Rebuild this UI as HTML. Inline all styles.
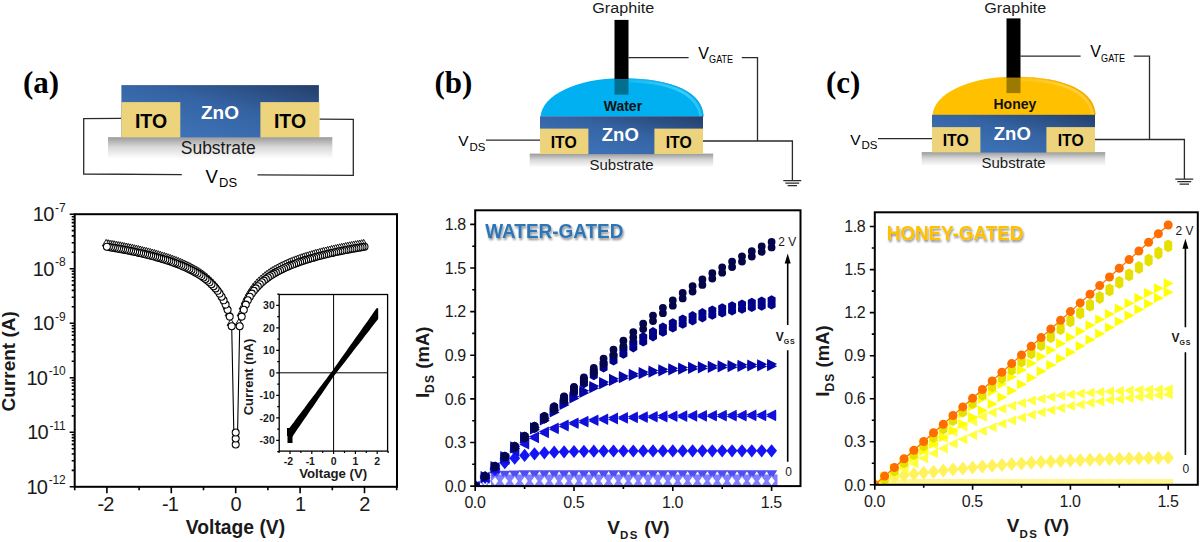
<!DOCTYPE html><html><head><meta charset="utf-8"><title>Figure</title><style>html,body{margin:0;padding:0;background:#fff;width:1200px;height:542px;overflow:hidden}svg{display:block}text{font-family:"Liberation Sans",sans-serif}</style></head><body>
<svg width="1200" height="542" viewBox="0 0 1200 542">
<rect width="1200" height="542" fill="#fff"/>
<defs>
<linearGradient id="zno" x1="0" y1="1" x2="1" y2="0"><stop offset="0" stop-color="#4178bf"/><stop offset="0.55" stop-color="#3564a4"/><stop offset="1" stop-color="#243f6a"/></linearGradient>
<linearGradient id="sub" x1="0" y1="0" x2="0" y2="1"><stop offset="0" stop-color="#9a9a9a"/><stop offset="0.45" stop-color="#d8d8d8"/><stop offset="1" stop-color="#ffffff"/></linearGradient>
<linearGradient id="wat" x1="0" y1="0" x2="1" y2="0"><stop offset="0" stop-color="#00aeef"/><stop offset="0.8" stop-color="#00b0f0"/><stop offset="1" stop-color="#0a8fd6"/></linearGradient>
<linearGradient id="hon" x1="0" y1="0" x2="1" y2="0"><stop offset="0" stop-color="#ffbf00"/><stop offset="0.8" stop-color="#ffc000"/><stop offset="1" stop-color="#f0a800"/></linearGradient>
<filter id="sh" x="-5%" y="-20%" width="115%" height="160%"><feGaussianBlur in="SourceAlpha" stdDeviation="0.8"/><feOffset dx="1.2" dy="1.5"/><feComponentTransfer><feFuncA type="linear" slope="0.45"/></feComponentTransfer><feMerge><feMergeNode/><feMergeNode in="SourceGraphic"/></feMerge></filter>
<path id="mc" d="M-3.9,0a3.9,3.9 0 1,0 7.8,0a3.9,3.9 0 1,0 -7.8,0z"/>
<path id="mh" d="M-4,-2.3L0,-4.6L4,-2.3L4,2.3L0,4.6L-4,2.3z"/>
<path id="mr" d="M-4.5,-5L5.5,0L-4.5,5z"/>
<path id="mC" d="M-4.5,0a4.5,4.5 0 1,0 9,0a4.5,4.5 0 1,0 -9,0z"/>
<path id="ml" d="M4.5,-5L-5.5,0L4.5,5z"/>
<path id="mD" d="M0,-7L5.6,0L0,7L-5.6,0z"/>
<path id="md" d="M0,-6.6L5.4,0L0,6.6L-5.4,0z"/>
<path id="mv" d="M-5.6,-4.4L5.6,-4.4L0,4.6z"/>
<path id="mp" d="M-3.5,0a3.5,3.5 0 1,0 7,0a3.5,3.5 0 1,0 -7,0z"/>
<path id="mw" d="M0,-6L5.2,0L0,6L-5.2,0z"/>
<path id="ms" d="M0,-4.2L3.2,0L0,4.2L-3.2,0z"/>
<path id="mb" d="M-5,-4H5V4H-5z"/>
<path id="mt" d="M0,-4L3.8,2.6L-3.8,2.6z"/>
</defs>
<text x="23" y="92.5" style="font-family:'Liberation Serif',serif" font-weight="bold" font-size="31">(a)</text>
<text x="434.5" y="92.5" style="font-family:'Liberation Serif',serif" font-weight="bold" font-size="31">(b)</text>
<text x="826" y="92.5" style="font-family:'Liberation Serif',serif" font-weight="bold" font-size="31">(c)</text>
<g>
<path d="M121.4,118.3 L83.7,118.6 L83.7,174 L181.8,174.6" fill="none" stroke="#2a2a2a" stroke-width="1.3"/>
<path d="M319.5,119.1 L353.3,119.4 L353.3,175.3 L257.5,174.9" fill="none" stroke="#2a2a2a" stroke-width="1.3"/>
<rect x="108" y="137.2" width="224.3" height="21.5" fill="url(#sub)"/>
<rect x="121.4" y="85.1" width="197.5" height="52.4" fill="url(#zno)"/>
<rect x="121.4" y="102.1" width="58.9" height="35.4" fill="#edd37c"/>
<rect x="260.4" y="102.1" width="59.1" height="35.4" fill="#edd37c"/>
<text x="151" y="128" font-size="19.5" text-anchor="middle" font-weight="bold" fill="#000" >ITO</text>
<text x="290" y="128" font-size="19.5" text-anchor="middle" font-weight="bold" fill="#000" >ITO</text>
<text x="220" y="119.1" font-size="19" text-anchor="middle" font-weight="bold" fill="#fff" >ZnO</text>
<text x="218.2" y="153.7" font-size="17.5" text-anchor="middle" font-weight="normal" fill="#1a1a1a" >Substrate</text>
<text x="205.5" y="182.9" font-size="18.5" text-anchor="start" font-weight="normal" fill="#000" >V</text>
<text x="219" y="187.3" font-size="13" text-anchor="start" font-weight="normal" fill="#000" >DS</text>
</g>
<defs><linearGradient id="bevWater" gradientUnits="userSpaceOnUse" x1="600" y1="0" x2="703" y2="0"><stop offset="0" stop-color="#45d2ff" stop-opacity="0"/><stop offset="0.8" stop-color="#45d2ff" stop-opacity="0.85"/><stop offset="1" stop-color="#45d2ff" stop-opacity="0.5"/></linearGradient><linearGradient id="rimWater" gradientUnits="userSpaceOnUse" x1="600" y1="0" x2="703" y2="0"><stop offset="0" stop-color="#0aa2e6" stop-opacity="0"/><stop offset="0.7" stop-color="#0aa2e6" stop-opacity="0.8"/><stop offset="1" stop-color="#0aa2e6" stop-opacity="0.8"/></linearGradient></defs>
<g transform="translate(0,0)">
<path d="M486,140.1 H540.5 M703,141 H792.4 V180.6 M628.5,57.7 H688.6 M741.8,57.7 H757.5 V141" fill="none" stroke="#2a2a2a" stroke-width="1.3"/>
<path d="M783.3,180.6 H801.2 M785.4,183.1 H799.2 M787.6,185.6 H797" fill="none" stroke="#2a2a2a" stroke-width="1.2"/>
<rect x="529.7" y="153.6" width="183.5" height="14" fill="url(#sub)"/>
<clipPath id="cpWater"><path d="M540.5,116.5 C542,96 575,78.3 622,78.3 C674,78.3 703,93 703.5,116.5 Z"/></clipPath>
<path d="M540.5,116.5 C542,96 575,78.3 622,78.3 C674,78.3 703,93 703.5,116.5 Z" fill="#00b0f0"/>
<g clip-path="url(#cpWater)"><path d="M622,78.3 C674,78.3 703,93 703.5,120" fill="none" stroke="url(#bevWater)" stroke-width="8"/><path d="M622,78.3 C674,78.3 703,93 703.5,120" fill="none" stroke="url(#rimWater)" stroke-width="2.4"/></g>
<rect x="540" y="116.3" width="163" height="37.8" fill="url(#zno)"/>
<rect x="540" y="128.6" width="48.4" height="25.5" fill="#edd37c"/>
<rect x="654.4" y="128.6" width="48.6" height="25.5" fill="#edd37c"/>
<rect x="614.5" y="19.9" width="14" height="59.4" fill="#000"/>
<rect x="614.5" y="79.3" width="14" height="15.3" fill="#006f90"/>
<text x="622.9" y="110.5" font-size="14" text-anchor="middle" font-weight="bold" fill="#111" >Water</text>
<text x="620.3" y="141.3" font-size="18.5" text-anchor="middle" font-weight="bold" fill="#fff" >ZnO</text>
<text x="563.7" y="147.5" font-size="15.8" text-anchor="middle" font-weight="bold" fill="#000" textLength="26" lengthAdjust="spacingAndGlyphs">ITO</text>
<text x="678.7" y="147.5" font-size="15.8" text-anchor="middle" font-weight="bold" fill="#000" textLength="26" lengthAdjust="spacingAndGlyphs">ITO</text>
<text x="621.6" y="169.8" font-size="15" text-anchor="middle" font-weight="normal" fill="#1a1a1a" >Substrate</text>
<text x="623.3" y="12.9" font-size="15.5" text-anchor="middle" font-weight="normal" fill="#1a1a1a" textLength="62" lengthAdjust="spacingAndGlyphs">Graphite</text>
<text x="458.3" y="146.3" font-size="15.5" text-anchor="start" font-weight="normal" fill="#000" >V</text>
<text x="469.5" y="150.8" font-size="11.5" text-anchor="start" font-weight="normal" fill="#000" >DS</text>
<text x="698.2" y="58.8" font-size="16" text-anchor="start" font-weight="normal" fill="#000" >V</text>
<text x="709.1" y="63" font-size="11.3" text-anchor="start" font-weight="normal" fill="#000" textLength="24" lengthAdjust="spacingAndGlyphs">GATE</text>
</g>
<defs><linearGradient id="bevHoney" gradientUnits="userSpaceOnUse" x1="600" y1="0" x2="703" y2="0"><stop offset="0" stop-color="#ffd24a" stop-opacity="0"/><stop offset="0.8" stop-color="#ffd24a" stop-opacity="0.85"/><stop offset="1" stop-color="#ffd24a" stop-opacity="0.5"/></linearGradient><linearGradient id="rimHoney" gradientUnits="userSpaceOnUse" x1="600" y1="0" x2="703" y2="0"><stop offset="0" stop-color="#f0a800" stop-opacity="0"/><stop offset="0.7" stop-color="#f0a800" stop-opacity="0.8"/><stop offset="1" stop-color="#f0a800" stop-opacity="0.8"/></linearGradient></defs>
<g transform="translate(392,-1.5)">
<path d="M486,140.1 H540.5 M703,141 H792.4 V180.6 M628.5,57.7 H688.6 M741.8,57.7 H757.5 V141" fill="none" stroke="#2a2a2a" stroke-width="1.3"/>
<path d="M783.3,180.6 H801.2 M785.4,183.1 H799.2 M787.6,185.6 H797" fill="none" stroke="#2a2a2a" stroke-width="1.2"/>
<rect x="529.7" y="153.6" width="183.5" height="14" fill="url(#sub)"/>
<clipPath id="cpHoney"><path d="M540.5,116.5 C542,96 575,78.3 622,78.3 C674,78.3 703,93 703.5,116.5 Z"/></clipPath>
<path d="M540.5,116.5 C542,96 575,78.3 622,78.3 C674,78.3 703,93 703.5,116.5 Z" fill="#ffc000"/>
<g clip-path="url(#cpHoney)"><path d="M622,78.3 C674,78.3 703,93 703.5,120" fill="none" stroke="url(#bevHoney)" stroke-width="8"/><path d="M622,78.3 C674,78.3 703,93 703.5,120" fill="none" stroke="url(#rimHoney)" stroke-width="2.4"/></g>
<rect x="540" y="116.3" width="163" height="37.8" fill="url(#zno)"/>
<rect x="540" y="128.6" width="48.4" height="25.5" fill="#edd37c"/>
<rect x="654.4" y="128.6" width="48.6" height="25.5" fill="#edd37c"/>
<rect x="614.5" y="19.9" width="14" height="59.4" fill="#000"/>
<rect x="614.5" y="79.3" width="14" height="15.3" fill="#9c7a00"/>
<text x="622.9" y="110.5" font-size="14" text-anchor="middle" font-weight="bold" fill="#111" >Honey</text>
<text x="620.3" y="141.3" font-size="18.5" text-anchor="middle" font-weight="bold" fill="#fff" >ZnO</text>
<text x="563.7" y="147.5" font-size="15.8" text-anchor="middle" font-weight="bold" fill="#000" textLength="26" lengthAdjust="spacingAndGlyphs">ITO</text>
<text x="678.7" y="147.5" font-size="15.8" text-anchor="middle" font-weight="bold" fill="#000" textLength="26" lengthAdjust="spacingAndGlyphs">ITO</text>
<text x="621.6" y="169.8" font-size="15" text-anchor="middle" font-weight="normal" fill="#1a1a1a" >Substrate</text>
<text x="623.3" y="14.4" font-size="15.5" text-anchor="middle" font-weight="normal" fill="#1a1a1a" textLength="62" lengthAdjust="spacingAndGlyphs">Graphite</text>
<text x="458.3" y="146.3" font-size="15.5" text-anchor="start" font-weight="normal" fill="#000" >V</text>
<text x="469.5" y="150.8" font-size="11.5" text-anchor="start" font-weight="normal" fill="#000" >DS</text>
<text x="698.2" y="58.8" font-size="16" text-anchor="start" font-weight="normal" fill="#000" >V</text>
<text x="709.1" y="63" font-size="11.3" text-anchor="start" font-weight="normal" fill="#000" textLength="24" lengthAdjust="spacingAndGlyphs">GATE</text>
</g>
<g>
<path d="M74.7,486.8h-5 M74.7,470.4h-3 M74.7,460.8h-3 M74.7,454h-3 M74.7,448.7h-3 M74.7,444.4h-3 M74.7,440.7h-3 M74.7,437.6h-3 M74.7,434.8h-3 M74.7,432.3h-5 M74.7,415.9h-3 M74.7,406.3h-3 M74.7,399.5h-3 M74.7,394.2h-3 M74.7,389.9h-3 M74.7,386.2h-3 M74.7,383h-3 M74.7,380.3h-3 M74.7,377.8h-5 M74.7,361.3h-3 M74.7,351.7h-3 M74.7,344.9h-3 M74.7,339.7h-3 M74.7,335.3h-3 M74.7,331.7h-3 M74.7,328.5h-3 M74.7,325.7h-3 M74.7,323.2h-5 M74.7,306.8h-3 M74.7,297.2h-3 M74.7,290.4h-3 M74.7,285.1h-3 M74.7,280.8h-3 M74.7,277.2h-3 M74.7,274h-3 M74.7,271.2h-3 M74.7,268.7h-5 M74.7,252.3h-3 M74.7,242.7h-3 M74.7,235.9h-3 M74.7,230.6h-3 M74.7,226.3h-3 M74.7,222.6h-3 M74.7,219.5h-3 M74.7,216.7h-3 M74.7,214.2h-5 M74.7,486.8v3.5 M106.9,486.8v6.5 M139.1,486.8v3.5 M171.3,486.8v6.5 M203.5,486.8v3.5 M235.7,486.8v6.5 M267.9,486.8v3.5 M300.1,486.8v6.5 M332.3,486.8v3.5 M364.5,486.8v6.5 M396.7,486.8v3.5" stroke="#000" stroke-width="1.6" fill="none"/>
<text x="65.4" y="493.7" font-size="20" text-anchor="end" fill="#1a1a1a" letter-spacing="-0.8">10<tspan font-size="12" dy="-9.3" dx="1.6" letter-spacing="-0.2">-12</tspan></text>
<text x="65.4" y="439.2" font-size="20" text-anchor="end" fill="#1a1a1a" letter-spacing="-0.8">10<tspan font-size="12" dy="-9.3" dx="1.6" letter-spacing="-0.2">-11</tspan></text>
<text x="65.4" y="384.7" font-size="20" text-anchor="end" fill="#1a1a1a" letter-spacing="-0.8">10<tspan font-size="12" dy="-9.3" dx="1.6" letter-spacing="-0.2">-10</tspan></text>
<text x="65.4" y="330.1" font-size="20" text-anchor="end" fill="#1a1a1a" letter-spacing="-0.8">10<tspan font-size="12" dy="-9.3" dx="1.6" letter-spacing="-0.2">-9</tspan></text>
<text x="65.4" y="275.6" font-size="20" text-anchor="end" fill="#1a1a1a" letter-spacing="-0.8">10<tspan font-size="12" dy="-9.3" dx="1.6" letter-spacing="-0.2">-8</tspan></text>
<text x="65.4" y="221.1" font-size="20" text-anchor="end" fill="#1a1a1a" letter-spacing="-0.8">10<tspan font-size="12" dy="-9.3" dx="1.6" letter-spacing="-0.2">-7</tspan></text>
<text x="105.6" y="510.7" font-size="20" text-anchor="middle" fill="#1a1a1a" letter-spacing="-0.8">-2</text>
<text x="170" y="510.7" font-size="20" text-anchor="middle" fill="#1a1a1a" letter-spacing="-0.8">-1</text>
<text x="235.7" y="510.7" font-size="20" text-anchor="middle" fill="#1a1a1a" letter-spacing="-0.8">0</text>
<text x="300.1" y="510.7" font-size="20" text-anchor="middle" fill="#1a1a1a" letter-spacing="-0.8">1</text>
<text x="364.5" y="510.7" font-size="20" text-anchor="middle" fill="#1a1a1a" letter-spacing="-0.8">2</text>
<text x="235.5" y="534.4" font-size="19.3" text-anchor="middle" font-weight="bold" fill="#1a1a1a" >Voltage (V)</text>
<text transform="translate(14.7,361.3) rotate(-90)" font-size="19" font-weight="bold" text-anchor="middle" fill="#1a1a1a">Current (A)</text>
<path d="M106.9,246.7 L108.9,247 L110.9,247.4 L112.9,247.7 L114.9,248.1 L117,248.4 L119,248.8 L121,249.2 L123,249.5 L125,249.9 L127,250.3 L129,250.7 L131,251.1 L133.1,251.5 L135.1,252 L137.1,252.4 L139.1,252.9 L141.1,253.3 L143.1,253.8 L145.1,254.3 L147.1,254.8 L149.2,255.3 L151.2,255.8 L153.2,256.3 L155.2,256.8 L157.2,257.4 L159.2,258 L161.2,258.6 L163.2,259.2 L165.3,259.8 L167.3,260.4 L169.3,261.1 L171.3,261.8 L173.3,262.5 L175.3,263.2 L177.3,264 L179.3,264.8 L181.4,265.6 L183.4,266.5 L185.4,267.3 L187.4,268.3 L189.4,269.2 L191.4,270.2 L193.4,271.3 L195.4,272.4 L197.5,273.6 L199.5,274.8 L201.5,276.1 L203.5,277.5 L205.5,279 L207.5,280.6 L209.5,282.3 L211.5,284.2 L213.6,286.2 L215.6,288.4 L217.6,290.8 L219.6,293.6 L221.6,296.7 L223.6,300.3 L225.6,304.6 L227.6,309.8 L229.7,316.6 L231.7,326.2 L233.9,436 M237.5,436 L239.7,326.2 L241.7,316.6 L243.8,309.8 L245.8,304.6 L247.8,300.3 L249.8,296.7 L251.8,293.6 L253.8,290.8 L255.8,288.4 L257.8,286.2 L259.8,284.2 L261.9,282.3 L263.9,280.6 L265.9,279 L267.9,277.5 L269.9,276.1 L271.9,274.8 L273.9,273.6 L275.9,272.4 L278,271.3 L280,270.2 L282,269.2 L284,268.3 L286,267.3 L288,266.5 L290,265.6 L292.1,264.8 L294.1,264 L296.1,263.2 L298.1,262.5 L300.1,261.8 L302.1,261.1 L304.1,260.4 L306.1,259.8 L308.1,259.2 L310.2,258.6 L312.2,258 L314.2,257.4 L316.2,256.8 L318.2,256.3 L320.2,255.8 L322.2,255.3 L324.2,254.8 L326.3,254.3 L328.3,253.8 L330.3,253.3 L332.3,252.9 L334.3,252.4 L336.3,252 L338.3,251.5 L340.4,251.1 L342.4,250.7 L344.4,250.3 L346.4,249.9 L348.4,249.5 L350.4,249.2 L352.4,248.8 L354.4,248.4 L356.4,248.1 L358.5,247.7 L360.5,247.4 L362.5,247 L364.5,246.7" fill="none" stroke="#000" stroke-width="1.1"/>
<g fill="#fff" stroke="#000" stroke-width="0.9">
<use href="#mt" x="363.7" y="243.4"/>
<use href="#mt" x="361.7" y="243.7"/>
<use href="#mt" x="359.7" y="244.1"/>
<use href="#mt" x="357.7" y="244.4"/>
<use href="#mt" x="355.6" y="244.7"/>
<use href="#mt" x="353.6" y="245.1"/>
<use href="#mt" x="351.6" y="245.5"/>
<use href="#mt" x="349.6" y="245.8"/>
<use href="#mt" x="347.6" y="246.2"/>
<use href="#mt" x="345.6" y="246.6"/>
<use href="#mt" x="343.6" y="247"/>
<use href="#mt" x="341.6" y="247.4"/>
<use href="#mt" x="339.6" y="247.8"/>
<use href="#mt" x="337.5" y="248.2"/>
<use href="#mt" x="335.5" y="248.7"/>
<use href="#mt" x="333.5" y="249.1"/>
<use href="#mt" x="331.5" y="249.5"/>
<use href="#mt" x="329.5" y="250"/>
<use href="#mt" x="327.5" y="250.5"/>
<use href="#mt" x="325.5" y="251"/>
<use href="#mt" x="323.4" y="251.4"/>
<use href="#mt" x="321.4" y="251.9"/>
<use href="#mt" x="319.4" y="252.5"/>
<use href="#mt" x="317.4" y="253"/>
<use href="#mt" x="315.4" y="253.5"/>
<use href="#mt" x="313.4" y="254.1"/>
<use href="#mt" x="311.4" y="254.7"/>
<use href="#mt" x="309.4" y="255.3"/>
<use href="#mt" x="307.3" y="255.9"/>
<use href="#mt" x="305.3" y="256.5"/>
<use href="#mt" x="303.3" y="257.1"/>
<use href="#mt" x="301.3" y="257.8"/>
<use href="#mt" x="299.3" y="258.5"/>
<use href="#mt" x="297.3" y="259.2"/>
<use href="#mt" x="295.3" y="259.9"/>
<use href="#mt" x="293.3" y="260.7"/>
<use href="#mt" x="291.2" y="261.5"/>
<use href="#mt" x="289.2" y="262.3"/>
<use href="#mt" x="287.2" y="263.2"/>
<use href="#mt" x="285.2" y="264"/>
<use href="#mt" x="283.2" y="265"/>
<use href="#mt" x="281.2" y="265.9"/>
<use href="#mt" x="279.2" y="266.9"/>
<use href="#mt" x="277.2" y="268"/>
<use href="#mt" x="275.1" y="269.1"/>
<use href="#mt" x="273.1" y="270.3"/>
<use href="#mt" x="271.1" y="271.5"/>
<use href="#mt" x="269.1" y="272.8"/>
<use href="#mt" x="267.1" y="274.2"/>
<use href="#mt" x="265.1" y="275.7"/>
<use href="#mt" x="263.1" y="277.3"/>
<use href="#mt" x="261.1" y="279"/>
<use href="#mt" x="259" y="280.9"/>
<use href="#mt" x="257" y="282.9"/>
<use href="#mt" x="255" y="285.1"/>
<use href="#mt" x="253" y="287.5"/>
<use href="#mt" x="251" y="290.3"/>
<use href="#mt" x="249" y="293.4"/>
<use href="#mt" x="247" y="297"/>
<use href="#mt" x="245" y="301.3"/>
<use href="#mt" x="242.9" y="306.5"/>
<use href="#mt" x="240.9" y="313.3"/>
<use href="#mt" x="238.9" y="322.8"/>
<use href="#mt" x="230.9" y="322.8"/>
<use href="#mt" x="228.9" y="313.3"/>
<use href="#mt" x="226.8" y="306.5"/>
<use href="#mt" x="224.8" y="301.3"/>
<use href="#mt" x="222.8" y="297"/>
<use href="#mt" x="220.8" y="293.4"/>
<use href="#mt" x="218.8" y="290.3"/>
<use href="#mt" x="216.8" y="287.5"/>
<use href="#mt" x="214.8" y="285.1"/>
<use href="#mt" x="212.8" y="282.9"/>
<use href="#mt" x="210.7" y="280.9"/>
<use href="#mt" x="208.7" y="279"/>
<use href="#mt" x="206.7" y="277.3"/>
<use href="#mt" x="204.7" y="275.7"/>
<use href="#mt" x="202.7" y="274.2"/>
<use href="#mt" x="200.7" y="272.8"/>
<use href="#mt" x="198.7" y="271.5"/>
<use href="#mt" x="196.7" y="270.3"/>
<use href="#mt" x="194.6" y="269.1"/>
<use href="#mt" x="192.6" y="268"/>
<use href="#mt" x="190.6" y="266.9"/>
<use href="#mt" x="188.6" y="265.9"/>
<use href="#mt" x="186.6" y="265"/>
<use href="#mt" x="184.6" y="264"/>
<use href="#mt" x="182.6" y="263.2"/>
<use href="#mt" x="180.6" y="262.3"/>
<use href="#mt" x="178.5" y="261.5"/>
<use href="#mt" x="176.5" y="260.7"/>
<use href="#mt" x="174.5" y="259.9"/>
<use href="#mt" x="172.5" y="259.2"/>
<use href="#mt" x="170.5" y="258.5"/>
<use href="#mt" x="168.5" y="257.8"/>
<use href="#mt" x="166.5" y="257.1"/>
<use href="#mt" x="164.5" y="256.5"/>
<use href="#mt" x="162.4" y="255.9"/>
<use href="#mt" x="160.4" y="255.3"/>
<use href="#mt" x="158.4" y="254.7"/>
<use href="#mt" x="156.4" y="254.1"/>
<use href="#mt" x="154.4" y="253.5"/>
<use href="#mt" x="152.4" y="253"/>
<use href="#mt" x="150.4" y="252.5"/>
<use href="#mt" x="148.4" y="251.9"/>
<use href="#mt" x="146.3" y="251.4"/>
<use href="#mt" x="144.3" y="251"/>
<use href="#mt" x="142.3" y="250.5"/>
<use href="#mt" x="140.3" y="250"/>
<use href="#mt" x="138.3" y="249.5"/>
<use href="#mt" x="136.3" y="249.1"/>
<use href="#mt" x="134.3" y="248.7"/>
<use href="#mt" x="132.3" y="248.2"/>
<use href="#mt" x="130.2" y="247.8"/>
<use href="#mt" x="128.2" y="247.4"/>
<use href="#mt" x="126.2" y="247"/>
<use href="#mt" x="124.2" y="246.6"/>
<use href="#mt" x="122.2" y="246.2"/>
<use href="#mt" x="120.2" y="245.8"/>
<use href="#mt" x="118.2" y="245.5"/>
<use href="#mt" x="116.2" y="245.1"/>
<use href="#mt" x="114.1" y="244.7"/>
<use href="#mt" x="112.1" y="244.4"/>
<use href="#mt" x="110.1" y="244.1"/>
<use href="#mt" x="108.1" y="243.7"/>
<use href="#mt" x="106.1" y="243.4"/>
</g>
<g fill="#fff" stroke="#000" stroke-width="1.05">
<use href="#mp" x="364.5" y="246.7"/>
<use href="#mp" x="362.5" y="247"/>
<use href="#mp" x="360.5" y="247.4"/>
<use href="#mp" x="358.5" y="247.7"/>
<use href="#mp" x="356.4" y="248.1"/>
<use href="#mp" x="354.4" y="248.4"/>
<use href="#mp" x="352.4" y="248.8"/>
<use href="#mp" x="350.4" y="249.2"/>
<use href="#mp" x="348.4" y="249.5"/>
<use href="#mp" x="346.4" y="249.9"/>
<use href="#mp" x="344.4" y="250.3"/>
<use href="#mp" x="342.4" y="250.7"/>
<use href="#mp" x="340.4" y="251.1"/>
<use href="#mp" x="338.3" y="251.5"/>
<use href="#mp" x="336.3" y="252"/>
<use href="#mp" x="334.3" y="252.4"/>
<use href="#mp" x="332.3" y="252.9"/>
<use href="#mp" x="330.3" y="253.3"/>
<use href="#mp" x="328.3" y="253.8"/>
<use href="#mp" x="326.3" y="254.3"/>
<use href="#mp" x="324.2" y="254.8"/>
<use href="#mp" x="322.2" y="255.3"/>
<use href="#mp" x="320.2" y="255.8"/>
<use href="#mp" x="318.2" y="256.3"/>
<use href="#mp" x="316.2" y="256.8"/>
<use href="#mp" x="314.2" y="257.4"/>
<use href="#mp" x="312.2" y="258"/>
<use href="#mp" x="310.2" y="258.6"/>
<use href="#mp" x="308.1" y="259.2"/>
<use href="#mp" x="306.1" y="259.8"/>
<use href="#mp" x="304.1" y="260.4"/>
<use href="#mp" x="302.1" y="261.1"/>
<use href="#mp" x="300.1" y="261.8"/>
<use href="#mp" x="298.1" y="262.5"/>
<use href="#mp" x="296.1" y="263.2"/>
<use href="#mp" x="294.1" y="264"/>
<use href="#mp" x="292.1" y="264.8"/>
<use href="#mp" x="290" y="265.6"/>
<use href="#mp" x="288" y="266.5"/>
<use href="#mp" x="286" y="267.3"/>
<use href="#mp" x="284" y="268.3"/>
<use href="#mp" x="282" y="269.2"/>
<use href="#mp" x="280" y="270.2"/>
<use href="#mp" x="278" y="271.3"/>
<use href="#mp" x="275.9" y="272.4"/>
<use href="#mp" x="273.9" y="273.6"/>
<use href="#mp" x="271.9" y="274.8"/>
<use href="#mp" x="269.9" y="276.1"/>
<use href="#mp" x="267.9" y="277.5"/>
<use href="#mp" x="265.9" y="279"/>
<use href="#mp" x="263.9" y="280.6"/>
<use href="#mp" x="261.9" y="282.3"/>
<use href="#mp" x="259.8" y="284.2"/>
<use href="#mp" x="257.8" y="286.2"/>
<use href="#mp" x="255.8" y="288.4"/>
<use href="#mp" x="253.8" y="290.8"/>
<use href="#mp" x="251.8" y="293.6"/>
<use href="#mp" x="249.8" y="296.7"/>
<use href="#mp" x="247.8" y="300.3"/>
<use href="#mp" x="245.8" y="304.6"/>
<use href="#mp" x="243.8" y="309.8"/>
<use href="#mp" x="241.7" y="316.6"/>
<use href="#mp" x="239.7" y="326.2"/>
<use href="#mp" x="231.7" y="326.2"/>
<use href="#mp" x="229.7" y="316.6"/>
<use href="#mp" x="227.6" y="309.8"/>
<use href="#mp" x="225.6" y="304.6"/>
<use href="#mp" x="223.6" y="300.3"/>
<use href="#mp" x="221.6" y="296.7"/>
<use href="#mp" x="219.6" y="293.6"/>
<use href="#mp" x="217.6" y="290.8"/>
<use href="#mp" x="215.6" y="288.4"/>
<use href="#mp" x="213.6" y="286.2"/>
<use href="#mp" x="211.5" y="284.2"/>
<use href="#mp" x="209.5" y="282.3"/>
<use href="#mp" x="207.5" y="280.6"/>
<use href="#mp" x="205.5" y="279"/>
<use href="#mp" x="203.5" y="277.5"/>
<use href="#mp" x="201.5" y="276.1"/>
<use href="#mp" x="199.5" y="274.8"/>
<use href="#mp" x="197.5" y="273.6"/>
<use href="#mp" x="195.4" y="272.4"/>
<use href="#mp" x="193.4" y="271.3"/>
<use href="#mp" x="191.4" y="270.2"/>
<use href="#mp" x="189.4" y="269.2"/>
<use href="#mp" x="187.4" y="268.3"/>
<use href="#mp" x="185.4" y="267.3"/>
<use href="#mp" x="183.4" y="266.5"/>
<use href="#mp" x="181.4" y="265.6"/>
<use href="#mp" x="179.3" y="264.8"/>
<use href="#mp" x="177.3" y="264"/>
<use href="#mp" x="175.3" y="263.2"/>
<use href="#mp" x="173.3" y="262.5"/>
<use href="#mp" x="171.3" y="261.8"/>
<use href="#mp" x="169.3" y="261.1"/>
<use href="#mp" x="167.3" y="260.4"/>
<use href="#mp" x="165.3" y="259.8"/>
<use href="#mp" x="163.2" y="259.2"/>
<use href="#mp" x="161.2" y="258.6"/>
<use href="#mp" x="159.2" y="258"/>
<use href="#mp" x="157.2" y="257.4"/>
<use href="#mp" x="155.2" y="256.8"/>
<use href="#mp" x="153.2" y="256.3"/>
<use href="#mp" x="151.2" y="255.8"/>
<use href="#mp" x="149.2" y="255.3"/>
<use href="#mp" x="147.1" y="254.8"/>
<use href="#mp" x="145.1" y="254.3"/>
<use href="#mp" x="143.1" y="253.8"/>
<use href="#mp" x="141.1" y="253.3"/>
<use href="#mp" x="139.1" y="252.9"/>
<use href="#mp" x="137.1" y="252.4"/>
<use href="#mp" x="135.1" y="252"/>
<use href="#mp" x="133.1" y="251.5"/>
<use href="#mp" x="131" y="251.1"/>
<use href="#mp" x="129" y="250.7"/>
<use href="#mp" x="127" y="250.3"/>
<use href="#mp" x="125" y="249.9"/>
<use href="#mp" x="123" y="249.5"/>
<use href="#mp" x="121" y="249.2"/>
<use href="#mp" x="119" y="248.8"/>
<use href="#mp" x="117" y="248.4"/>
<use href="#mp" x="114.9" y="248.1"/>
<use href="#mp" x="112.9" y="247.7"/>
<use href="#mp" x="110.9" y="247.4"/>
<use href="#mp" x="108.9" y="247"/>
<use href="#mp" x="106.9" y="246.7"/>
<use href="#mp" x="235.7" y="444.5"/>
<use href="#mp" x="235.7" y="438.5"/>
<use href="#mp" x="235.7" y="432.5"/>
</g>
<rect x="74.7" y="214.2" width="322.3" height="272.6" fill="none" stroke="#000" stroke-width="2"/>
<rect x="279.2" y="294.5" width="108.4" height="156.6" fill="#fff"/>
<path d="M333.6,294.5V451.1 M279.2,372.8H387.6" stroke="#000" stroke-width="1"/>
<path d="M279.2,451.6h-2 M279.2,440.3h-3 M279.2,429.1h-2 M279.2,417.8h-3 M279.2,406.6h-2 M279.2,395.3h-3 M279.2,384.1h-2 M279.2,372.8h-3 M279.2,361.6h-2 M279.2,350.3h-3 M279.2,339.1h-2 M279.2,327.8h-3 M279.2,316.6h-2 M279.2,305.3h-3 M279.2,294.1h-2 M279.1,451.1v2 M290,451.1v3 M300.9,451.1v2 M311.8,451.1v3 M322.7,451.1v2 M333.6,451.1v3 M344.5,451.1v2 M355.4,451.1v3 M366.3,451.1v2 M377.2,451.1v3 M388.1,451.1v2" stroke="#000" stroke-width="1.2" fill="none"/>
<text x="274.8" y="444" font-size="10.5" text-anchor="end" font-weight="bold" fill="#1a1a1a" >-30</text>
<text x="274.8" y="421.5" font-size="10.5" text-anchor="end" font-weight="bold" fill="#1a1a1a" >-20</text>
<text x="274.8" y="399" font-size="10.5" text-anchor="end" font-weight="bold" fill="#1a1a1a" >-10</text>
<text x="274.8" y="376.5" font-size="10.5" text-anchor="end" font-weight="bold" fill="#1a1a1a" >0</text>
<text x="274.8" y="354" font-size="10.5" text-anchor="end" font-weight="bold" fill="#1a1a1a" >10</text>
<text x="274.8" y="331.5" font-size="10.5" text-anchor="end" font-weight="bold" fill="#1a1a1a" >20</text>
<text x="274.8" y="309" font-size="10.5" text-anchor="end" font-weight="bold" fill="#1a1a1a" >30</text>
<text x="288.5" y="465.2" font-size="10.5" text-anchor="middle" font-weight="bold" fill="#1a1a1a" >-2</text>
<text x="310.3" y="465.2" font-size="10.5" text-anchor="middle" font-weight="bold" fill="#1a1a1a" >-1</text>
<text x="333.6" y="465.2" font-size="10.5" text-anchor="middle" font-weight="bold" fill="#1a1a1a" >0</text>
<text x="355.4" y="465.2" font-size="10.5" text-anchor="middle" font-weight="bold" fill="#1a1a1a" >1</text>
<text x="377.2" y="465.2" font-size="10.5" text-anchor="middle" font-weight="bold" fill="#1a1a1a" >2</text>
<text x="333.2" y="477.7" font-size="13.2" text-anchor="middle" font-weight="bold" fill="#1a1a1a" >Voltage (V)</text>
<text transform="translate(253.4,377) rotate(-90)" font-size="13" font-weight="bold" text-anchor="middle" fill="#1a1a1a">Current (nA)</text>
<path d="M290,428.8 L292.2,425.9 L294.4,423 L296.5,420.1 L298.7,417.2 L300.9,414.3 L303.1,411.4 L305.3,408.5 L307.4,405.6 L309.6,402.7 L311.8,399.8 L314,396.9 L316.2,394 L318.3,391.1 L320.5,388.2 L322.7,385.3 L324.9,382.4 L327.1,379.5 L329.2,376.6 L331.4,373.7 L333.6,370.8 L335.8,367.7 L338,364.6 L340.1,361.5 L342.3,358.4 L344.5,355.4 L346.7,352.3 L348.9,349.2 L351,346.1 L353.2,343 L355.4,339.9 L357.6,336.9 L359.8,333.8 L361.9,330.7 L364.1,327.6 L366.3,324.5 L368.5,321.5 L370.7,318.4 L372.8,315.3 L375,312.2 L377.2,309.1 L377.2,318.6 L375,321.4 L372.8,324.2 L370.7,327 L368.5,329.8 L366.3,332.6 L364.1,335.4 L361.9,338.3 L359.8,341.1 L357.6,343.9 L355.4,346.7 L353.2,349.5 L351,352.3 L348.9,355.1 L346.7,357.9 L344.5,360.8 L342.3,363.6 L340.1,366.4 L338,369.2 L335.8,372 L333.6,374.8 L331.4,378 L329.2,381.2 L327.1,384.3 L324.9,387.5 L322.7,390.7 L320.5,393.9 L318.3,397 L316.2,400.2 L314,403.4 L311.8,406.6 L309.6,409.7 L307.4,412.9 L305.3,416.1 L303.1,419.2 L300.9,422.4 L298.7,425.6 L296.5,428.8 L294.4,431.9 L292.2,435.1 L290,438.3Z" fill="#000" stroke="#000" stroke-width="2" stroke-linejoin="round"/>
<rect x="287.5" y="436" width="5" height="7" fill="#000"/>
<rect x="287" y="428" width="4" height="8" fill="#000"/>
<rect x="279.2" y="294.5" width="108.4" height="156.6" fill="none" stroke="#000" stroke-width="1.3"/>
</g>
<g>
<path d="M475.2,486.1h-5 M475.2,464.3h-3 M475.2,442.5h-5 M475.2,420.7h-3 M475.2,398.9h-5 M475.2,377.1h-3 M475.2,355.2h-5 M475.2,333.4h-3 M475.2,311.6h-5 M475.2,289.8h-3 M475.2,268h-5 M475.2,246.2h-3 M475.2,224.4h-5 M475.2,486.1v5 M524.6,486.1v3 M574,486.1v5 M623.4,486.1v3 M672.8,486.1v5 M722.2,486.1v3 M771.6,486.1v5" stroke="#000" stroke-width="1.6" fill="none"/>
<text x="465.7" y="491.8" font-size="16" text-anchor="end" fill="#1a1a1a" letter-spacing="-0.4">0.0</text>
<text x="465.7" y="448.2" font-size="16" text-anchor="end" fill="#1a1a1a" letter-spacing="-0.4">0.3</text>
<text x="465.7" y="404.6" font-size="16" text-anchor="end" fill="#1a1a1a" letter-spacing="-0.4">0.6</text>
<text x="465.7" y="360.9" font-size="16" text-anchor="end" fill="#1a1a1a" letter-spacing="-0.4">0.9</text>
<text x="465.7" y="317.3" font-size="16" text-anchor="end" fill="#1a1a1a" letter-spacing="-0.4">1.2</text>
<text x="465.7" y="273.7" font-size="16" text-anchor="end" fill="#1a1a1a" letter-spacing="-0.4">1.5</text>
<text x="465.7" y="230.1" font-size="16" text-anchor="end" fill="#1a1a1a" letter-spacing="-0.4">1.8</text>
<text x="474.9" y="508" font-size="16" text-anchor="middle" fill="#1a1a1a" letter-spacing="-0.4">0.0</text>
<text x="573.7" y="508" font-size="16" text-anchor="middle" fill="#1a1a1a" letter-spacing="-0.4">0.5</text>
<text x="672.5" y="508" font-size="16" text-anchor="middle" fill="#1a1a1a" letter-spacing="-0.4">1.0</text>
<text x="771.3" y="508" font-size="16" text-anchor="middle" fill="#1a1a1a" letter-spacing="-0.4">1.5</text>
<text transform="translate(428.9,362.3) rotate(-90)" font-size="18.5" font-weight="bold" fill="#1a1a1a" text-anchor="middle">I<tspan font-size="12" dy="5.5" letter-spacing="1.2">DS</tspan><tspan dy="-5.5"> (mA)</tspan></text>
<text x="607.2" y="533.7" font-size="19" font-weight="bold" fill="#1a1a1a">V<tspan font-size="11.5" dy="5.5" letter-spacing="1.5">DS</tspan><tspan dy="-5.5"> (V)</tspan></text>
<clipPath id="clip475"><rect x="475.2" y="210.3" width="325.3" height="275.8"/></clipPath>
<g clip-path="url(#clip475)">
<rect x="491" y="474.5" width="286.5" height="11.6" fill="#7f7fff"/>
<g fill="#4d4df2">
<use href="#mv" x="475.2" y="486.1"/>
<use href="#mv" x="485.1" y="479.4"/>
<use href="#mv" x="495" y="476"/>
<use href="#mv" x="504.8" y="475.1"/>
<use href="#mv" x="514.7" y="474.8"/>
<use href="#mv" x="524.6" y="474.7"/>
<use href="#mv" x="534.5" y="474.7"/>
<use href="#mv" x="544.4" y="474.7"/>
<use href="#mv" x="554.2" y="474.6"/>
<use href="#mv" x="564.1" y="474.6"/>
<use href="#mv" x="574" y="474.6"/>
<use href="#mv" x="583.9" y="474.6"/>
<use href="#mv" x="593.8" y="474.6"/>
<use href="#mv" x="603.6" y="474.6"/>
<use href="#mv" x="613.5" y="474.6"/>
<use href="#mv" x="623.4" y="474.6"/>
<use href="#mv" x="633.3" y="474.6"/>
<use href="#mv" x="643.2" y="474.6"/>
<use href="#mv" x="653" y="474.6"/>
<use href="#mv" x="662.9" y="474.6"/>
<use href="#mv" x="672.8" y="474.6"/>
<use href="#mv" x="682.7" y="474.6"/>
<use href="#mv" x="692.6" y="474.6"/>
<use href="#mv" x="702.4" y="474.6"/>
<use href="#mv" x="712.3" y="474.6"/>
<use href="#mv" x="722.2" y="474.6"/>
<use href="#mv" x="732.1" y="474.6"/>
<use href="#mv" x="742" y="474.6"/>
<use href="#mv" x="751.8" y="474.6"/>
<use href="#mv" x="761.7" y="474.6"/>
<use href="#mv" x="771.6" y="474.6"/>
</g>
<g fill="#7f7fff">
<use href="#mw" x="475.2" y="486.1"/>
<use href="#mw" x="485.1" y="481.8"/>
<use href="#mw" x="495" y="481.1"/>
<use href="#mw" x="504.8" y="481.1"/>
<use href="#mw" x="514.7" y="481"/>
<use href="#mw" x="524.6" y="481"/>
<use href="#mw" x="534.5" y="481"/>
<use href="#mw" x="544.4" y="481"/>
<use href="#mw" x="554.2" y="481"/>
<use href="#mw" x="564.1" y="481"/>
<use href="#mw" x="574" y="481"/>
<use href="#mw" x="583.9" y="481"/>
<use href="#mw" x="593.8" y="481"/>
<use href="#mw" x="603.6" y="481"/>
<use href="#mw" x="613.5" y="481"/>
<use href="#mw" x="623.4" y="481"/>
<use href="#mw" x="633.3" y="481"/>
<use href="#mw" x="643.2" y="481"/>
<use href="#mw" x="653" y="481"/>
<use href="#mw" x="662.9" y="481"/>
<use href="#mw" x="672.8" y="481"/>
<use href="#mw" x="682.7" y="481"/>
<use href="#mw" x="692.6" y="481"/>
<use href="#mw" x="702.4" y="481"/>
<use href="#mw" x="712.3" y="481"/>
<use href="#mw" x="722.2" y="481"/>
<use href="#mw" x="732.1" y="481"/>
<use href="#mw" x="742" y="481"/>
<use href="#mw" x="751.8" y="481"/>
<use href="#mw" x="761.7" y="481"/>
<use href="#mw" x="771.6" y="481"/>
</g>
<g fill="#ffffff">
<use href="#ms" x="485.1" y="481.8"/>
<use href="#ms" x="495" y="481.1"/>
<use href="#ms" x="504.8" y="481.1"/>
<use href="#ms" x="514.7" y="481"/>
<use href="#ms" x="524.6" y="481"/>
<use href="#ms" x="534.5" y="481"/>
<use href="#ms" x="544.4" y="481"/>
<use href="#ms" x="554.2" y="481"/>
<use href="#ms" x="564.1" y="481"/>
<use href="#ms" x="574" y="481"/>
<use href="#ms" x="583.9" y="481"/>
<use href="#ms" x="593.8" y="481"/>
<use href="#ms" x="603.6" y="481"/>
<use href="#ms" x="613.5" y="481"/>
<use href="#ms" x="623.4" y="481"/>
<use href="#ms" x="633.3" y="481"/>
<use href="#ms" x="643.2" y="481"/>
<use href="#ms" x="653" y="481"/>
<use href="#ms" x="662.9" y="481"/>
<use href="#ms" x="672.8" y="481"/>
<use href="#ms" x="682.7" y="481"/>
<use href="#ms" x="692.6" y="481"/>
<use href="#ms" x="702.4" y="481"/>
<use href="#ms" x="712.3" y="481"/>
<use href="#ms" x="722.2" y="481"/>
<use href="#ms" x="732.1" y="481"/>
<use href="#ms" x="742" y="481"/>
<use href="#ms" x="751.8" y="481"/>
<use href="#ms" x="761.7" y="481"/>
<use href="#ms" x="771.6" y="481"/>
</g>
<g fill="#1414f5">
<use href="#md" x="475.2" y="486.1"/>
<use href="#md" x="485.1" y="477.4"/>
<use href="#md" x="495" y="469.3"/>
<use href="#md" x="504.8" y="462.7"/>
<use href="#md" x="514.7" y="458.2"/>
<use href="#md" x="524.6" y="455.4"/>
<use href="#md" x="534.5" y="453.8"/>
<use href="#md" x="544.4" y="452.8"/>
<use href="#md" x="554.2" y="452.2"/>
<use href="#md" x="564.1" y="451.8"/>
<use href="#md" x="574" y="451.5"/>
<use href="#md" x="583.9" y="451.3"/>
<use href="#md" x="593.8" y="451.2"/>
<use href="#md" x="603.6" y="451.1"/>
<use href="#md" x="613.5" y="451"/>
<use href="#md" x="623.4" y="451"/>
<use href="#md" x="633.3" y="451"/>
<use href="#md" x="643.2" y="450.9"/>
<use href="#md" x="653" y="450.9"/>
<use href="#md" x="662.9" y="450.9"/>
<use href="#md" x="672.8" y="450.9"/>
<use href="#md" x="682.7" y="450.9"/>
<use href="#md" x="692.6" y="450.8"/>
<use href="#md" x="702.4" y="450.8"/>
<use href="#md" x="712.3" y="450.8"/>
<use href="#md" x="722.2" y="450.8"/>
<use href="#md" x="732.1" y="450.8"/>
<use href="#md" x="742" y="450.8"/>
<use href="#md" x="751.8" y="450.8"/>
<use href="#md" x="761.7" y="450.8"/>
<use href="#md" x="771.6" y="450.8"/>
</g>
<g fill="#1010d8">
<use href="#ml" x="475.2" y="486.1"/>
<use href="#ml" x="485.1" y="476.7"/>
<use href="#ml" x="495" y="467.3"/>
<use href="#ml" x="504.8" y="458.3"/>
<use href="#ml" x="514.7" y="450"/>
<use href="#ml" x="524.6" y="442.6"/>
<use href="#ml" x="534.5" y="436.4"/>
<use href="#ml" x="544.4" y="431.5"/>
<use href="#ml" x="554.2" y="427.6"/>
<use href="#ml" x="564.1" y="424.6"/>
<use href="#ml" x="574" y="422.4"/>
<use href="#ml" x="583.9" y="420.7"/>
<use href="#ml" x="593.8" y="419.4"/>
<use href="#ml" x="603.6" y="418.4"/>
<use href="#ml" x="613.5" y="417.6"/>
<use href="#ml" x="623.4" y="417"/>
<use href="#ml" x="633.3" y="416.5"/>
<use href="#ml" x="643.2" y="416.2"/>
<use href="#ml" x="653" y="415.9"/>
<use href="#ml" x="662.9" y="415.6"/>
<use href="#ml" x="672.8" y="415.4"/>
<use href="#ml" x="682.7" y="415.2"/>
<use href="#ml" x="692.6" y="415.1"/>
<use href="#ml" x="702.4" y="415"/>
<use href="#ml" x="712.3" y="414.9"/>
<use href="#ml" x="722.2" y="414.8"/>
<use href="#ml" x="732.1" y="414.7"/>
<use href="#ml" x="742" y="414.7"/>
<use href="#ml" x="751.8" y="414.6"/>
<use href="#ml" x="761.7" y="414.6"/>
<use href="#ml" x="771.6" y="414.5"/>
</g>
<g fill="#1010d8">
<use href="#ml" x="475.2" y="487.8"/>
<use href="#ml" x="485.1" y="478.4"/>
<use href="#ml" x="495" y="469.1"/>
<use href="#ml" x="504.8" y="460"/>
<use href="#ml" x="514.7" y="451.7"/>
<use href="#ml" x="524.6" y="444.4"/>
<use href="#ml" x="534.5" y="438.2"/>
<use href="#ml" x="544.4" y="433.2"/>
<use href="#ml" x="554.2" y="429.3"/>
<use href="#ml" x="564.1" y="426.4"/>
<use href="#ml" x="574" y="424.1"/>
<use href="#ml" x="583.9" y="422.4"/>
<use href="#ml" x="593.8" y="421.1"/>
<use href="#ml" x="603.6" y="420.1"/>
<use href="#ml" x="613.5" y="419.4"/>
<use href="#ml" x="623.4" y="418.8"/>
<use href="#ml" x="633.3" y="418.3"/>
<use href="#ml" x="643.2" y="417.9"/>
<use href="#ml" x="653" y="417.6"/>
<use href="#ml" x="662.9" y="417.4"/>
<use href="#ml" x="672.8" y="417.1"/>
<use href="#ml" x="682.7" y="417"/>
<use href="#ml" x="692.6" y="416.8"/>
<use href="#ml" x="702.4" y="416.7"/>
<use href="#ml" x="712.3" y="416.6"/>
<use href="#ml" x="722.2" y="416.5"/>
<use href="#ml" x="732.1" y="416.5"/>
<use href="#ml" x="742" y="416.4"/>
<use href="#ml" x="751.8" y="416.3"/>
<use href="#ml" x="761.7" y="416.3"/>
<use href="#ml" x="771.6" y="416.3"/>
</g>
<g fill="#0606a8">
<use href="#mr" x="475.2" y="486.1"/>
<use href="#mr" x="485.1" y="476.1"/>
<use href="#mr" x="495" y="466"/>
<use href="#mr" x="504.8" y="456.1"/>
<use href="#mr" x="514.7" y="446.2"/>
<use href="#mr" x="524.6" y="436.5"/>
<use href="#mr" x="534.5" y="427.2"/>
<use href="#mr" x="544.4" y="418.4"/>
<use href="#mr" x="554.2" y="410.3"/>
<use href="#mr" x="564.1" y="402.9"/>
<use href="#mr" x="574" y="396.4"/>
<use href="#mr" x="583.9" y="390.8"/>
<use href="#mr" x="593.8" y="386.1"/>
<use href="#mr" x="603.6" y="382.1"/>
<use href="#mr" x="613.5" y="378.8"/>
<use href="#mr" x="623.4" y="376.1"/>
<use href="#mr" x="633.3" y="373.8"/>
<use href="#mr" x="643.2" y="372"/>
<use href="#mr" x="653" y="370.5"/>
<use href="#mr" x="662.9" y="369.3"/>
<use href="#mr" x="672.8" y="368.3"/>
<use href="#mr" x="682.7" y="367.5"/>
<use href="#mr" x="692.6" y="366.8"/>
<use href="#mr" x="702.4" y="366.2"/>
<use href="#mr" x="712.3" y="365.7"/>
<use href="#mr" x="722.2" y="365.3"/>
<use href="#mr" x="732.1" y="365"/>
<use href="#mr" x="742" y="364.7"/>
<use href="#mr" x="751.8" y="364.4"/>
<use href="#mr" x="761.7" y="364.2"/>
<use href="#mr" x="771.6" y="364"/>
</g>
<g fill="#0606a8">
<use href="#mr" x="475.2" y="488.3"/>
<use href="#mr" x="485.1" y="478.2"/>
<use href="#mr" x="495" y="468.2"/>
<use href="#mr" x="504.8" y="458.2"/>
<use href="#mr" x="514.7" y="448.4"/>
<use href="#mr" x="524.6" y="438.7"/>
<use href="#mr" x="534.5" y="429.4"/>
<use href="#mr" x="544.4" y="420.6"/>
<use href="#mr" x="554.2" y="412.5"/>
<use href="#mr" x="564.1" y="405.1"/>
<use href="#mr" x="574" y="398.6"/>
<use href="#mr" x="583.9" y="393"/>
<use href="#mr" x="593.8" y="388.2"/>
<use href="#mr" x="603.6" y="384.3"/>
<use href="#mr" x="613.5" y="381"/>
<use href="#mr" x="623.4" y="378.3"/>
<use href="#mr" x="633.3" y="376"/>
<use href="#mr" x="643.2" y="374.2"/>
<use href="#mr" x="653" y="372.7"/>
<use href="#mr" x="662.9" y="371.5"/>
<use href="#mr" x="672.8" y="370.5"/>
<use href="#mr" x="682.7" y="369.7"/>
<use href="#mr" x="692.6" y="369"/>
<use href="#mr" x="702.4" y="368.4"/>
<use href="#mr" x="712.3" y="367.9"/>
<use href="#mr" x="722.2" y="367.5"/>
<use href="#mr" x="732.1" y="367.2"/>
<use href="#mr" x="742" y="366.9"/>
<use href="#mr" x="751.8" y="366.6"/>
<use href="#mr" x="761.7" y="366.4"/>
<use href="#mr" x="771.6" y="366.2"/>
</g>
<g fill="#00008a">
<use href="#mh" x="475.2" y="486.1"/>
<use href="#mh" x="485.1" y="476.1"/>
<use href="#mh" x="495" y="466"/>
<use href="#mh" x="504.8" y="456"/>
<use href="#mh" x="514.7" y="446"/>
<use href="#mh" x="524.6" y="436.1"/>
<use href="#mh" x="534.5" y="426.2"/>
<use href="#mh" x="544.4" y="416.4"/>
<use href="#mh" x="554.2" y="406.8"/>
<use href="#mh" x="564.1" y="397.4"/>
<use href="#mh" x="574" y="388.3"/>
<use href="#mh" x="583.9" y="379.5"/>
<use href="#mh" x="593.8" y="371.2"/>
<use href="#mh" x="603.6" y="363.3"/>
<use href="#mh" x="613.5" y="355.9"/>
<use href="#mh" x="623.4" y="349"/>
<use href="#mh" x="633.3" y="342.7"/>
<use href="#mh" x="643.2" y="336.9"/>
<use href="#mh" x="653" y="331.7"/>
<use href="#mh" x="662.9" y="327"/>
<use href="#mh" x="672.8" y="322.8"/>
<use href="#mh" x="682.7" y="319"/>
<use href="#mh" x="692.6" y="315.7"/>
<use href="#mh" x="702.4" y="312.7"/>
<use href="#mh" x="712.3" y="310.1"/>
<use href="#mh" x="722.2" y="307.8"/>
<use href="#mh" x="732.1" y="305.8"/>
<use href="#mh" x="742" y="304"/>
<use href="#mh" x="751.8" y="302.4"/>
<use href="#mh" x="761.7" y="301.1"/>
<use href="#mh" x="771.6" y="299.8"/>
</g>
<g fill="#00008a">
<use href="#mh" x="475.2" y="486.1"/>
<use href="#mh" x="485.1" y="476.5"/>
<use href="#mh" x="495" y="466.8"/>
<use href="#mh" x="504.8" y="457.2"/>
<use href="#mh" x="514.7" y="447.6"/>
<use href="#mh" x="524.6" y="438"/>
<use href="#mh" x="534.5" y="428.5"/>
<use href="#mh" x="544.4" y="419.1"/>
<use href="#mh" x="554.2" y="409.9"/>
<use href="#mh" x="564.1" y="400.9"/>
<use href="#mh" x="574" y="392.1"/>
<use href="#mh" x="583.9" y="383.7"/>
<use href="#mh" x="593.8" y="375.6"/>
<use href="#mh" x="603.6" y="368"/>
<use href="#mh" x="613.5" y="360.9"/>
<use href="#mh" x="623.4" y="354.1"/>
<use href="#mh" x="633.3" y="347.8"/>
<use href="#mh" x="643.2" y="342"/>
<use href="#mh" x="653" y="336.8"/>
<use href="#mh" x="662.9" y="332.1"/>
<use href="#mh" x="672.8" y="327.9"/>
<use href="#mh" x="682.7" y="324.1"/>
<use href="#mh" x="692.6" y="320.8"/>
<use href="#mh" x="702.4" y="317.8"/>
<use href="#mh" x="712.3" y="315.2"/>
<use href="#mh" x="722.2" y="312.9"/>
<use href="#mh" x="732.1" y="310.9"/>
<use href="#mh" x="742" y="309.1"/>
<use href="#mh" x="751.8" y="307.5"/>
<use href="#mh" x="761.7" y="306.1"/>
<use href="#mh" x="771.6" y="304.9"/>
</g>
<g fill="#05054a">
<use href="#mc" x="475.2" y="486.1"/>
<use href="#mc" x="485.1" y="476.1"/>
<use href="#mc" x="495" y="466"/>
<use href="#mc" x="504.8" y="456"/>
<use href="#mc" x="514.7" y="446"/>
<use href="#mc" x="524.6" y="436"/>
<use href="#mc" x="534.5" y="426"/>
<use href="#mc" x="544.4" y="416.1"/>
<use href="#mc" x="554.2" y="406.3"/>
<use href="#mc" x="564.1" y="396.5"/>
<use href="#mc" x="574" y="386.8"/>
<use href="#mc" x="583.9" y="377.3"/>
<use href="#mc" x="593.8" y="367.9"/>
<use href="#mc" x="603.6" y="358.6"/>
<use href="#mc" x="613.5" y="349.6"/>
<use href="#mc" x="623.4" y="340.7"/>
<use href="#mc" x="633.3" y="332.1"/>
<use href="#mc" x="643.2" y="323.7"/>
<use href="#mc" x="653" y="315.6"/>
<use href="#mc" x="662.9" y="307.8"/>
<use href="#mc" x="672.8" y="300.3"/>
<use href="#mc" x="682.7" y="293"/>
<use href="#mc" x="692.6" y="286.1"/>
<use href="#mc" x="702.4" y="279.5"/>
<use href="#mc" x="712.3" y="273.2"/>
<use href="#mc" x="722.2" y="267.3"/>
<use href="#mc" x="732.1" y="261.6"/>
<use href="#mc" x="742" y="256.3"/>
<use href="#mc" x="751.8" y="251.2"/>
<use href="#mc" x="761.7" y="246.5"/>
<use href="#mc" x="771.6" y="242"/>
</g>
<g fill="#05054a">
<use href="#mc" x="475.2" y="486.1"/>
<use href="#mc" x="485.1" y="476.5"/>
<use href="#mc" x="495" y="466.9"/>
<use href="#mc" x="504.8" y="457.2"/>
<use href="#mc" x="514.7" y="447.6"/>
<use href="#mc" x="524.6" y="438.1"/>
<use href="#mc" x="534.5" y="428.5"/>
<use href="#mc" x="544.4" y="419"/>
<use href="#mc" x="554.2" y="409.6"/>
<use href="#mc" x="564.1" y="400.2"/>
<use href="#mc" x="574" y="390.9"/>
<use href="#mc" x="583.9" y="381.8"/>
<use href="#mc" x="593.8" y="372.7"/>
<use href="#mc" x="603.6" y="363.9"/>
<use href="#mc" x="613.5" y="355"/>
<use href="#mc" x="623.4" y="346.1"/>
<use href="#mc" x="633.3" y="337.5"/>
<use href="#mc" x="643.2" y="329.1"/>
<use href="#mc" x="653" y="321"/>
<use href="#mc" x="662.9" y="313.2"/>
<use href="#mc" x="672.8" y="305.7"/>
<use href="#mc" x="682.7" y="298.4"/>
<use href="#mc" x="692.6" y="291.5"/>
<use href="#mc" x="702.4" y="284.9"/>
<use href="#mc" x="712.3" y="278.6"/>
<use href="#mc" x="722.2" y="272.7"/>
<use href="#mc" x="732.1" y="267"/>
<use href="#mc" x="742" y="261.6"/>
<use href="#mc" x="751.8" y="256.6"/>
<use href="#mc" x="761.7" y="251.8"/>
<use href="#mc" x="771.6" y="247.4"/>
</g>
</g>
<text x="485.3" y="238.3" font-size="19.5" font-weight="bold" fill="#2e75b6" textLength="138" lengthAdjust="spacingAndGlyphs" filter="url(#sh)">WATER-GATED</text>
<rect x="475.2" y="210.3" width="325.3" height="275.8" fill="none" stroke="#000" stroke-width="2"/>
<path d="M787.7,461.7V350.2 M787.7,325V261.5" stroke="#000" stroke-width="1.6" fill="none"/>
<path d="M787.7,253.5 L790.7,263.5 L784.7,263.5Z" fill="#000"/>
<text x="778.3" y="245.8" font-size="12" text-anchor="start" font-weight="normal" fill="#1a1a1a" >2 V</text>
<text x="775.8" y="340.6" font-size="12" font-weight="bold" fill="#1a1a1a">V<tspan font-size="7" dy="3" letter-spacing="0.8">GS</tspan></text>
<text x="785.3" y="476.3" font-size="12" text-anchor="start" font-weight="normal" fill="#1a1a1a" >0</text>
</g>
<g>
<path d="M874.8,484.8h-5 M874.8,463.3h-3 M874.8,441.8h-5 M874.8,420.2h-3 M874.8,398.7h-5 M874.8,377.2h-3 M874.8,355.7h-5 M874.8,334.1h-3 M874.8,312.6h-5 M874.8,291.1h-3 M874.8,269.6h-5 M874.8,248h-3 M874.8,226.5h-5 M874.8,484.8v5 M923.7,484.8v3 M972.6,484.8v5 M1021.5,484.8v3 M1070.4,484.8v5 M1119.3,484.8v3 M1168.2,484.8v5" stroke="#000" stroke-width="1.6" fill="none"/>
<text x="865.3" y="490.5" font-size="16" text-anchor="end" fill="#1a1a1a" letter-spacing="-0.4">0.0</text>
<text x="865.3" y="447.4" font-size="16" text-anchor="end" fill="#1a1a1a" letter-spacing="-0.4">0.3</text>
<text x="865.3" y="404.4" font-size="16" text-anchor="end" fill="#1a1a1a" letter-spacing="-0.4">0.6</text>
<text x="865.3" y="361.4" font-size="16" text-anchor="end" fill="#1a1a1a" letter-spacing="-0.4">0.9</text>
<text x="865.3" y="318.3" font-size="16" text-anchor="end" fill="#1a1a1a" letter-spacing="-0.4">1.2</text>
<text x="865.3" y="275.2" font-size="16" text-anchor="end" fill="#1a1a1a" letter-spacing="-0.4">1.5</text>
<text x="865.3" y="232.2" font-size="16" text-anchor="end" fill="#1a1a1a" letter-spacing="-0.4">1.8</text>
<text x="874.5" y="506.7" font-size="16" text-anchor="middle" fill="#1a1a1a" letter-spacing="-0.4">0.0</text>
<text x="972.3" y="506.7" font-size="16" text-anchor="middle" fill="#1a1a1a" letter-spacing="-0.4">0.5</text>
<text x="1070.1" y="506.7" font-size="16" text-anchor="middle" fill="#1a1a1a" letter-spacing="-0.4">1.0</text>
<text x="1167.9" y="506.7" font-size="16" text-anchor="middle" fill="#1a1a1a" letter-spacing="-0.4">1.5</text>
<text transform="translate(828.5,361) rotate(-90)" font-size="18.5" font-weight="bold" fill="#1a1a1a" text-anchor="middle">I<tspan font-size="12" dy="5.5" letter-spacing="1.2">DS</tspan><tspan dy="-5.5"> (mA)</tspan></text>
<text x="1006.8" y="532.4" font-size="19" font-weight="bold" fill="#1a1a1a">V<tspan font-size="11.5" dy="5.5" letter-spacing="1.5">DS</tspan><tspan dy="-5.5"> (V)</tspan></text>
<clipPath id="clip874"><rect x="874.8" y="212.3" width="323" height="272.5"/></clipPath>
<g clip-path="url(#clip874)">
<g fill="#fff690">
<use href="#mb" x="874.8" y="484.8"/>
<use href="#mb" x="884.6" y="484"/>
<use href="#mb" x="894.4" y="483.5"/>
<use href="#mb" x="904.1" y="483.2"/>
<use href="#mb" x="913.9" y="483.1"/>
<use href="#mb" x="923.7" y="483.1"/>
<use href="#mb" x="933.5" y="483.1"/>
<use href="#mb" x="943.3" y="483.1"/>
<use href="#mb" x="953" y="483.1"/>
<use href="#mb" x="962.8" y="483.1"/>
<use href="#mb" x="972.6" y="483.1"/>
<use href="#mb" x="982.4" y="483.1"/>
<use href="#mb" x="992.2" y="483.1"/>
<use href="#mb" x="1001.9" y="483.1"/>
<use href="#mb" x="1011.7" y="483.1"/>
<use href="#mb" x="1021.5" y="483.1"/>
<use href="#mb" x="1031.3" y="483.1"/>
<use href="#mb" x="1041.1" y="483.1"/>
<use href="#mb" x="1050.8" y="483.1"/>
<use href="#mb" x="1060.6" y="483.1"/>
<use href="#mb" x="1070.4" y="483.1"/>
<use href="#mb" x="1080.2" y="483.1"/>
<use href="#mb" x="1090" y="483.1"/>
<use href="#mb" x="1099.7" y="483.1"/>
<use href="#mb" x="1109.5" y="483.1"/>
<use href="#mb" x="1119.3" y="483.1"/>
<use href="#mb" x="1129.1" y="483.1"/>
<use href="#mb" x="1138.9" y="483.1"/>
<use href="#mb" x="1148.6" y="483.1"/>
<use href="#mb" x="1158.4" y="483.1"/>
<use href="#mb" x="1168.2" y="483.1"/>
</g>
<g fill="#fff25a">
<use href="#mD" x="874.8" y="484.8"/>
<use href="#mD" x="884.6" y="479.6"/>
<use href="#mD" x="894.4" y="476.9"/>
<use href="#mD" x="904.1" y="475.3"/>
<use href="#mD" x="913.9" y="474.1"/>
<use href="#mD" x="923.7" y="472.8"/>
<use href="#mD" x="933.5" y="471.7"/>
<use href="#mD" x="943.3" y="470.6"/>
<use href="#mD" x="953" y="469.5"/>
<use href="#mD" x="962.8" y="468.4"/>
<use href="#mD" x="972.6" y="467.5"/>
<use href="#mD" x="982.4" y="466.5"/>
<use href="#mD" x="992.2" y="465.7"/>
<use href="#mD" x="1001.9" y="464.9"/>
<use href="#mD" x="1011.7" y="464.1"/>
<use href="#mD" x="1021.5" y="463.4"/>
<use href="#mD" x="1031.3" y="462.7"/>
<use href="#mD" x="1041.1" y="462.1"/>
<use href="#mD" x="1050.8" y="461.6"/>
<use href="#mD" x="1060.6" y="461.1"/>
<use href="#mD" x="1070.4" y="460.6"/>
<use href="#mD" x="1080.2" y="460.2"/>
<use href="#mD" x="1090" y="459.8"/>
<use href="#mD" x="1099.7" y="459.4"/>
<use href="#mD" x="1109.5" y="459.1"/>
<use href="#mD" x="1119.3" y="458.8"/>
<use href="#mD" x="1129.1" y="458.5"/>
<use href="#mD" x="1138.9" y="458.3"/>
<use href="#mD" x="1148.6" y="458.1"/>
<use href="#mD" x="1158.4" y="457.9"/>
<use href="#mD" x="1168.2" y="457.7"/>
</g>
<g fill="#ffff40">
<use href="#ml" x="874.8" y="484.8"/>
<use href="#ml" x="884.6" y="479.4"/>
<use href="#ml" x="894.4" y="474.1"/>
<use href="#ml" x="904.1" y="468.7"/>
<use href="#ml" x="913.9" y="463.5"/>
<use href="#ml" x="923.7" y="458.3"/>
<use href="#ml" x="933.5" y="453.2"/>
<use href="#ml" x="943.3" y="448.4"/>
<use href="#ml" x="953" y="443.7"/>
<use href="#ml" x="962.8" y="439.2"/>
<use href="#ml" x="972.6" y="434.9"/>
<use href="#ml" x="982.4" y="430.9"/>
<use href="#ml" x="992.2" y="427.2"/>
<use href="#ml" x="1001.9" y="423.7"/>
<use href="#ml" x="1011.7" y="420.5"/>
<use href="#ml" x="1021.5" y="417.6"/>
<use href="#ml" x="1031.3" y="414.8"/>
<use href="#ml" x="1041.1" y="412.3"/>
<use href="#ml" x="1050.8" y="410.1"/>
<use href="#ml" x="1060.6" y="408"/>
<use href="#ml" x="1070.4" y="406.1"/>
<use href="#ml" x="1080.2" y="404.4"/>
<use href="#ml" x="1090" y="402.8"/>
<use href="#ml" x="1099.7" y="401.4"/>
<use href="#ml" x="1109.5" y="400.1"/>
<use href="#ml" x="1119.3" y="399"/>
<use href="#ml" x="1129.1" y="397.9"/>
<use href="#ml" x="1138.9" y="396.9"/>
<use href="#ml" x="1148.6" y="396.1"/>
<use href="#ml" x="1158.4" y="395.2"/>
<use href="#ml" x="1168.2" y="394.5"/>
</g>
<g fill="#ffff40">
<use href="#ml" x="874.8" y="484.8"/>
<use href="#ml" x="884.6" y="478"/>
<use href="#ml" x="894.4" y="471.2"/>
<use href="#ml" x="904.1" y="464.4"/>
<use href="#ml" x="913.9" y="457.6"/>
<use href="#ml" x="923.7" y="451"/>
<use href="#ml" x="933.5" y="444.4"/>
<use href="#ml" x="943.3" y="438.1"/>
<use href="#ml" x="953" y="432.1"/>
<use href="#ml" x="962.8" y="426.5"/>
<use href="#ml" x="972.6" y="421.3"/>
<use href="#ml" x="982.4" y="416.7"/>
<use href="#ml" x="992.2" y="412.5"/>
<use href="#ml" x="1001.9" y="408.8"/>
<use href="#ml" x="1011.7" y="405.7"/>
<use href="#ml" x="1021.5" y="402.9"/>
<use href="#ml" x="1031.3" y="400.6"/>
<use href="#ml" x="1041.1" y="398.7"/>
<use href="#ml" x="1050.8" y="397"/>
<use href="#ml" x="1060.6" y="395.6"/>
<use href="#ml" x="1070.4" y="394.5"/>
<use href="#ml" x="1080.2" y="393.5"/>
<use href="#ml" x="1090" y="392.7"/>
<use href="#ml" x="1099.7" y="392"/>
<use href="#ml" x="1109.5" y="391.4"/>
<use href="#ml" x="1119.3" y="390.9"/>
<use href="#ml" x="1129.1" y="390.4"/>
<use href="#ml" x="1138.9" y="390.1"/>
<use href="#ml" x="1148.6" y="389.7"/>
<use href="#ml" x="1158.4" y="389.5"/>
<use href="#ml" x="1168.2" y="389.2"/>
</g>
<g fill="#ffff00">
<use href="#mr" x="874.8" y="484.8"/>
<use href="#mr" x="884.6" y="478"/>
<use href="#mr" x="894.4" y="471.2"/>
<use href="#mr" x="904.1" y="464.4"/>
<use href="#mr" x="913.9" y="457.6"/>
<use href="#mr" x="923.7" y="450.8"/>
<use href="#mr" x="933.5" y="444.1"/>
<use href="#mr" x="943.3" y="437.3"/>
<use href="#mr" x="953" y="430.6"/>
<use href="#mr" x="962.8" y="423.9"/>
<use href="#mr" x="972.6" y="417.2"/>
<use href="#mr" x="982.4" y="410.5"/>
<use href="#mr" x="992.2" y="403.9"/>
<use href="#mr" x="1001.9" y="397.3"/>
<use href="#mr" x="1011.7" y="390.8"/>
<use href="#mr" x="1021.5" y="384.2"/>
<use href="#mr" x="1031.3" y="377.8"/>
<use href="#mr" x="1041.1" y="371.3"/>
<use href="#mr" x="1050.8" y="364.9"/>
<use href="#mr" x="1060.6" y="358.6"/>
<use href="#mr" x="1070.4" y="352.3"/>
<use href="#mr" x="1080.2" y="346"/>
<use href="#mr" x="1090" y="339.8"/>
<use href="#mr" x="1099.7" y="333.7"/>
<use href="#mr" x="1109.5" y="327.6"/>
<use href="#mr" x="1119.3" y="321.5"/>
<use href="#mr" x="1129.1" y="315.6"/>
<use href="#mr" x="1138.9" y="309.6"/>
<use href="#mr" x="1148.6" y="303.8"/>
<use href="#mr" x="1158.4" y="298"/>
<use href="#mr" x="1168.2" y="292.3"/>
</g>
<g fill="#ffff00">
<use href="#mr" x="874.8" y="484.8"/>
<use href="#mr" x="884.6" y="476.8"/>
<use href="#mr" x="894.4" y="468.7"/>
<use href="#mr" x="904.1" y="460.7"/>
<use href="#mr" x="913.9" y="452.7"/>
<use href="#mr" x="923.7" y="444.8"/>
<use href="#mr" x="933.5" y="436.9"/>
<use href="#mr" x="943.3" y="429.1"/>
<use href="#mr" x="953" y="421.4"/>
<use href="#mr" x="962.8" y="413.7"/>
<use href="#mr" x="972.6" y="406.2"/>
<use href="#mr" x="982.4" y="398.7"/>
<use href="#mr" x="992.2" y="391.4"/>
<use href="#mr" x="1001.9" y="384.1"/>
<use href="#mr" x="1011.7" y="377"/>
<use href="#mr" x="1021.5" y="370"/>
<use href="#mr" x="1031.3" y="363.2"/>
<use href="#mr" x="1041.1" y="356.5"/>
<use href="#mr" x="1050.8" y="350"/>
<use href="#mr" x="1060.6" y="343.6"/>
<use href="#mr" x="1070.4" y="337.3"/>
<use href="#mr" x="1080.2" y="331.2"/>
<use href="#mr" x="1090" y="325.3"/>
<use href="#mr" x="1099.7" y="319.5"/>
<use href="#mr" x="1109.5" y="313.9"/>
<use href="#mr" x="1119.3" y="308.4"/>
<use href="#mr" x="1129.1" y="303.2"/>
<use href="#mr" x="1138.9" y="298"/>
<use href="#mr" x="1148.6" y="293.1"/>
<use href="#mr" x="1158.4" y="288.3"/>
<use href="#mr" x="1168.2" y="283.6"/>
</g>
<g fill="#e6e000">
<use href="#mh" x="874.8" y="484.8"/>
<use href="#mh" x="884.6" y="476.5"/>
<use href="#mh" x="894.4" y="468.3"/>
<use href="#mh" x="904.1" y="460.1"/>
<use href="#mh" x="913.9" y="451.8"/>
<use href="#mh" x="923.7" y="443.3"/>
<use href="#mh" x="933.5" y="434.7"/>
<use href="#mh" x="943.3" y="426.2"/>
<use href="#mh" x="953" y="417.7"/>
<use href="#mh" x="962.8" y="409.2"/>
<use href="#mh" x="972.6" y="400.8"/>
<use href="#mh" x="982.4" y="392.4"/>
<use href="#mh" x="992.2" y="384"/>
<use href="#mh" x="1001.9" y="375.7"/>
<use href="#mh" x="1011.7" y="367.4"/>
<use href="#mh" x="1021.5" y="359.2"/>
<use href="#mh" x="1031.3" y="351"/>
<use href="#mh" x="1041.1" y="342.9"/>
<use href="#mh" x="1050.8" y="334.9"/>
<use href="#mh" x="1060.6" y="326.9"/>
<use href="#mh" x="1070.4" y="319"/>
<use href="#mh" x="1080.2" y="311.2"/>
<use href="#mh" x="1090" y="303.4"/>
<use href="#mh" x="1099.7" y="295.7"/>
<use href="#mh" x="1109.5" y="288.1"/>
<use href="#mh" x="1119.3" y="280.5"/>
<use href="#mh" x="1129.1" y="273.1"/>
<use href="#mh" x="1138.9" y="265.7"/>
<use href="#mh" x="1148.6" y="258.4"/>
<use href="#mh" x="1158.4" y="251.2"/>
<use href="#mh" x="1168.2" y="244"/>
</g>
<g fill="#e6e000">
<use href="#mh" x="874.8" y="488.4"/>
<use href="#mh" x="884.6" y="480.1"/>
<use href="#mh" x="894.4" y="471.9"/>
<use href="#mh" x="904.1" y="463.6"/>
<use href="#mh" x="913.9" y="455.4"/>
<use href="#mh" x="923.7" y="446.8"/>
<use href="#mh" x="933.5" y="438.3"/>
<use href="#mh" x="943.3" y="429.8"/>
<use href="#mh" x="953" y="421.3"/>
<use href="#mh" x="962.8" y="412.8"/>
<use href="#mh" x="972.6" y="404.4"/>
<use href="#mh" x="982.4" y="396"/>
<use href="#mh" x="992.2" y="387.6"/>
<use href="#mh" x="1001.9" y="379.3"/>
<use href="#mh" x="1011.7" y="371"/>
<use href="#mh" x="1021.5" y="362.8"/>
<use href="#mh" x="1031.3" y="354.6"/>
<use href="#mh" x="1041.1" y="346.5"/>
<use href="#mh" x="1050.8" y="338.5"/>
<use href="#mh" x="1060.6" y="330.5"/>
<use href="#mh" x="1070.4" y="322.6"/>
<use href="#mh" x="1080.2" y="314.7"/>
<use href="#mh" x="1090" y="307"/>
<use href="#mh" x="1099.7" y="299.3"/>
<use href="#mh" x="1109.5" y="291.7"/>
<use href="#mh" x="1119.3" y="284.1"/>
<use href="#mh" x="1129.1" y="276.6"/>
<use href="#mh" x="1138.9" y="269.3"/>
<use href="#mh" x="1148.6" y="262"/>
<use href="#mh" x="1158.4" y="254.8"/>
<use href="#mh" x="1168.2" y="247.6"/>
</g>
<path d="M874.8,484.8 L884.6,476.1 L894.4,467.5 L904.1,458.8 L913.9,450.2 L923.7,441.5 L933.5,432.8 L943.3,424.2 L953,415.5 L962.8,406.9 L972.6,398.2 L982.4,389.5 L992.2,380.9 L1001.9,372.2 L1011.7,363.6 L1021.5,354.9 L1031.3,346.2 L1041.1,337.6 L1050.8,328.9 L1060.6,320.3 L1070.4,311.6 L1080.2,302.9 L1090,294.3 L1099.7,285.6 L1109.5,277 L1119.3,268.3 L1129.1,259.6 L1138.9,251 L1148.6,242.3 L1158.4,233.7 L1168.2,225" stroke="#ff6d00" stroke-width="1.2" fill="none"/>
<g fill="#ff6d00">
<use href="#mC" x="874.8" y="484.8"/>
<use href="#mC" x="884.6" y="476.1"/>
<use href="#mC" x="894.4" y="467.5"/>
<use href="#mC" x="904.1" y="458.8"/>
<use href="#mC" x="913.9" y="450.2"/>
<use href="#mC" x="923.7" y="441.5"/>
<use href="#mC" x="933.5" y="432.8"/>
<use href="#mC" x="943.3" y="424.2"/>
<use href="#mC" x="953" y="415.5"/>
<use href="#mC" x="962.8" y="406.9"/>
<use href="#mC" x="972.6" y="398.2"/>
<use href="#mC" x="982.4" y="389.5"/>
<use href="#mC" x="992.2" y="380.9"/>
<use href="#mC" x="1001.9" y="372.2"/>
<use href="#mC" x="1011.7" y="363.6"/>
<use href="#mC" x="1021.5" y="354.9"/>
<use href="#mC" x="1031.3" y="346.2"/>
<use href="#mC" x="1041.1" y="337.6"/>
<use href="#mC" x="1050.8" y="328.9"/>
<use href="#mC" x="1060.6" y="320.3"/>
<use href="#mC" x="1070.4" y="311.6"/>
<use href="#mC" x="1080.2" y="302.9"/>
<use href="#mC" x="1090" y="294.3"/>
<use href="#mC" x="1099.7" y="285.6"/>
<use href="#mC" x="1109.5" y="277"/>
<use href="#mC" x="1119.3" y="268.3"/>
<use href="#mC" x="1129.1" y="259.6"/>
<use href="#mC" x="1138.9" y="251"/>
<use href="#mC" x="1148.6" y="242.3"/>
<use href="#mC" x="1158.4" y="233.7"/>
<use href="#mC" x="1168.2" y="225"/>
</g>
</g>
<text x="886.7" y="240.1" font-size="19.5" font-weight="bold" fill="#ffc000" textLength="136.6" lengthAdjust="spacingAndGlyphs" filter="url(#sh)">HONEY-GATED</text>
<rect x="874.8" y="212.3" width="323" height="272.5" fill="none" stroke="#000" stroke-width="2"/>
<path d="M1185.4,454.9V352.2 M1185.4,327.3V246.7" stroke="#000" stroke-width="1.6" fill="none"/>
<path d="M1185.4,238.7 L1188.4,248.7 L1182.4,248.7Z" fill="#000"/>
<text x="1175.4" y="234.7" font-size="12" text-anchor="start" font-weight="normal" fill="#1a1a1a" >2 V</text>
<text x="1171.6" y="342" font-size="12" font-weight="bold" fill="#1a1a1a">V<tspan font-size="7" dy="3" letter-spacing="0.8">GS</tspan></text>
<text x="1182.6" y="473" font-size="12" text-anchor="start" font-weight="normal" fill="#1a1a1a" >0</text>
</g>
</svg></body></html>
